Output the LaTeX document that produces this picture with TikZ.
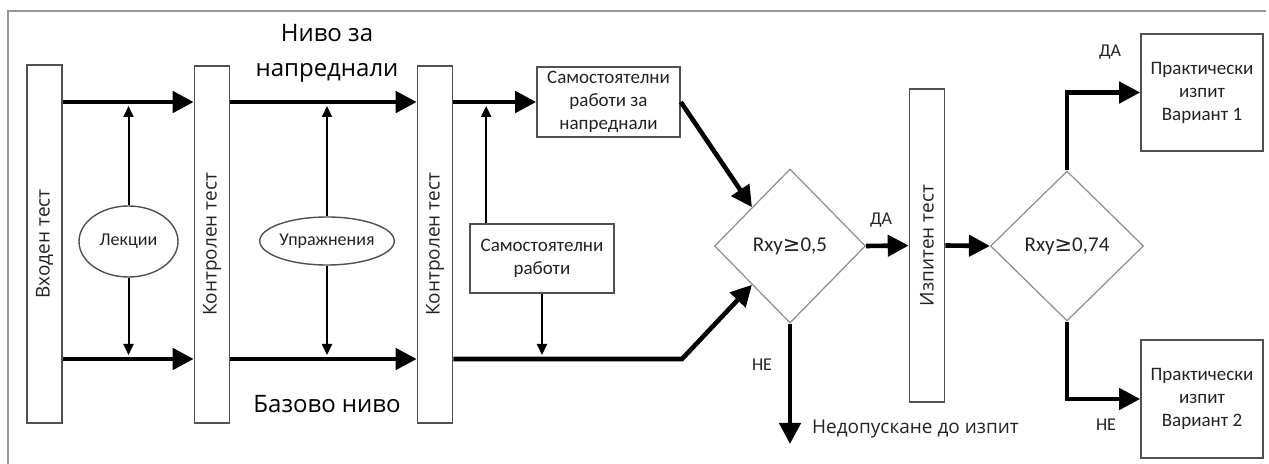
\documentclass[tikz,border=0pt]{standalone}
\usepackage{fontspec}
\setmainfont{Carlito}
\newfontfamily\opensans{Open Sans}
\newfontfamily\symfont{DejaVu Sans}
\usepackage{tikz}
\usetikzlibrary{positioning,shapes.geometric,arrows.meta,calc}
\usepackage{xcolor}
\definecolor{framegray}{RGB}{150,150,150}
\definecolor{boxgray}{RGB}{80,80,80}
\definecolor{diagray}{RGB}{140,140,140}
\definecolor{textgray}{RGB}{35,35,35}

\newcommand{\geqsym}{{\symfont\char"2265}}

\begin{document}
\begin{tikzpicture}[
    x=0.5pt, y=-0.5pt,
    testbar/.style={rectangle, draw=boxgray, line width=0.8pt, minimum width=17.5pt, inner sep=0pt},
    workbox/.style={rectangle, draw=boxgray, line width=0.8pt, align=center, inner sep=0pt, text=textgray, font=\fontsize{9.5}{11.5}\selectfont},
    activity/.style={ellipse, draw=boxgray, line width=0.7pt, inner sep=0pt, text=textgray, font=\fontsize{9}{11}\selectfont},
    decision/.style={diamond, draw=diagray, line width=0.6pt, inner sep=0pt, text=textgray, font=\fontsize{10.5}{13}\selectfont},
    bigarrow/.style={line width=2.3pt, -{Triangle[length=10.5pt,width=10.5pt]}},
    thinarrow/.style={line width=1pt, -{Triangle[length=5.5pt,width=5pt]}},
    yesno/.style={text=textgray, font=\fontsize{9}{10}\selectfont}
]

\useasboundingbox (0,0) rectangle (1269,464);

% Frame
\draw[framegray, line width=1pt] (8,464) -- (8,11) -- (1266,11);

% Levels
\coordinate (top) at (0,102);
\coordinate (bot) at (0,359);

% Test bars
\node[testbar, minimum height=179pt, label={[rotate=90, text=textgray, font=\opensans\fontsize{9.5}{11}\selectfont]center:Входен тест}] (vhod) at (44.5,244) {};
\node[testbar, minimum height=178.5pt, label={[rotate=90, text=textgray, font=\opensans\fontsize{9.5}{11}\selectfont]center:Контролен тест}] (kontr1) at (212,244.5) {};
\node[testbar, minimum height=178.5pt, label={[rotate=90, text=textgray, font=\opensans\fontsize{9.5}{11}\selectfont]center:Контролен тест}] (kontr2) at (435,244.5) {};
\node[testbar, minimum height=156.5pt, label={[rotate=90, text=textgray, font=\opensans\fontsize{9.5}{11}\selectfont]center:Изпитен тест}] (izpit) at (927,245.5) {};

% Activities
\node[activity, minimum width=49.5pt, minimum height=35.5pt] (lekcii) at (128.5,241.5) {Лекции};
\node[activity, minimum width=66pt, minimum height=24pt] (uprazh) at (327,241) {Упражнения};

% Level names
\node[align=center, font=\opensans\fontsize{12}{17.5}\selectfont, text=black] (napr) at (327,53) {Ниво за\\напреднали};
\node[font=\opensans\fontsize{12}{14}\selectfont, text=black] (bazovo) at (327,404) {Базово ниво};

% Self-study boxes
\node[workbox, minimum width=71.5pt, minimum height=35pt] (samnapr) at (608.5,102) {Самостоятелни\\работи за\\напреднали};
\node[workbox, minimum width=72pt, minimum height=34.5pt] (samrab) at (542,258.5) {Самостоятелни\\работи};

% Decisions
\node[decision, minimum width=75.5pt, minimum height=77pt] (rxy1) at (790,246) {Rxy\geqsym0,5};
\node[decision, minimum width=76.5pt, minimum height=75pt] (rxy2) at (1067,246) {Rxy\geqsym0,74};

% Practical exam variants
\node[workbox, minimum width=61pt, minimum height=58.5pt] (var1) at (1202,92.5) {Практически\\изпит\\Вариант 1};
\node[workbox, minimum width=61pt, minimum height=59pt] (var2) at (1202,399) {Практически\\изпит\\Вариант 2};

% Main flow
\draw[bigarrow] (vhod.east |- top) -- (kontr1.west |- top);
\draw[bigarrow] (vhod.east |- bot) -- (kontr1.west |- bot);
\draw[bigarrow] (kontr1.east |- top) -- (kontr2.west |- top);
\draw[bigarrow] (kontr1.east |- bot) -- (kontr2.west |- bot);
\draw[bigarrow] (kontr2.east |- top) -- (samnapr.west);
\draw[bigarrow] (kontr2.east |- bot) -- (682,359) -- (rxy1.south west);
\draw[bigarrow] (samnapr.east) -- (rxy1.north west);
\draw[bigarrow] (rxy1.east) -- (izpit.west);
\draw[bigarrow] (izpit.east) -- (rxy2.west);
\draw[bigarrow] (rxy2.north) |- (var1.west);
\draw[bigarrow] (rxy2.south) |- (var2.west);
\coordinate (nedop) at (790,444);
\draw[bigarrow] (rxy1.south) -- (nedop);

% Activity links
\draw[thinarrow, shorten >=2pt] (lekcii.north) -- (lekcii |- top);
\draw[thinarrow, shorten >=2pt] (lekcii.south) -- (lekcii |- bot);
\draw[thinarrow, shorten >=2pt] (uprazh.north) -- (uprazh |- top);
\draw[thinarrow, shorten >=2pt] (uprazh.south) -- (uprazh |- bot);
\draw[thinarrow, shorten >=2pt] ([xshift=8.5pt]samrab.north west) -- ([xshift=8.5pt]samrab.north west |- top);
\draw[thinarrow, shorten >=2pt] (samrab.south) -- (samrab.south |- bot);

% Labels
\node[yesno] (da1) at (881,220) {ДА};
\node[yesno] (ne1) at (762,365) {НЕ};
\node[yesno] (da2) at (1110,52) {ДА};
\node[yesno] (ne2) at (1106,425) {НЕ};
\node[anchor=west, font=\opensans\fontsize{9.5}{11}\selectfont, text=textgray] (nedoptext) at (805,429) {Недопускане до изпит};

\end{tikzpicture}
\end{document}
